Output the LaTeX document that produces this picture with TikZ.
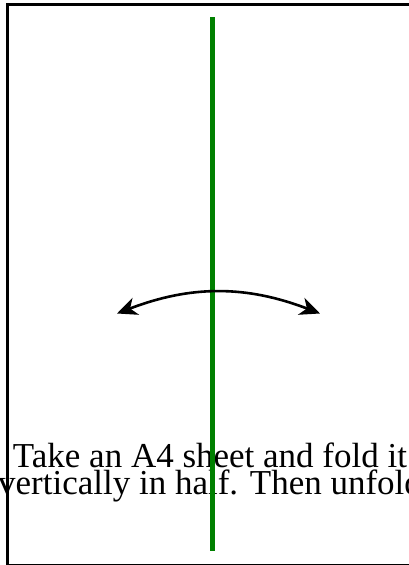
\documentclass[tikz,border=0pt]{standalone}
\usepackage{fontspec}
\setmainfont{Liberation Serif}
\usetikzlibrary{arrows.meta}

\begin{document}
\begin{tikzpicture}[
  x=1pt, y=-1pt,
  >={Stealth[length=20pt,width=18pt,inset=6pt]},
  sheet/.style={draw, line width=2.8pt},
  foldline/.style={draw=green!50!black, line width=5.5pt},
  flip/.style={<->, line width=2.6pt, bend left=21},
  caption/.style={align=center, inner sep=0pt, font=\fontsize{35}{27}\selectfont}
]
  \useasboundingbox (0,0) rectangle (409,565);
  \clip (0,0) rectangle (409,565);
  \draw[sheet] (7.5,4.5) rectangle (430,565);

  \node[caption, anchor=base] (instr) at (210,494) {Take an A4 sheet and fold it\\vertically in half. Then unfold};

  \coordinate (top) at (212.5,17);
  \coordinate (bottom) at (212.5,551);
  \draw[foldline] (top) -- (bottom);

  \coordinate (left) at (117,313.5);
  \coordinate (right) at (320,313.5);
  \draw[flip] (left) to (right);
\end{tikzpicture}
\end{document}
